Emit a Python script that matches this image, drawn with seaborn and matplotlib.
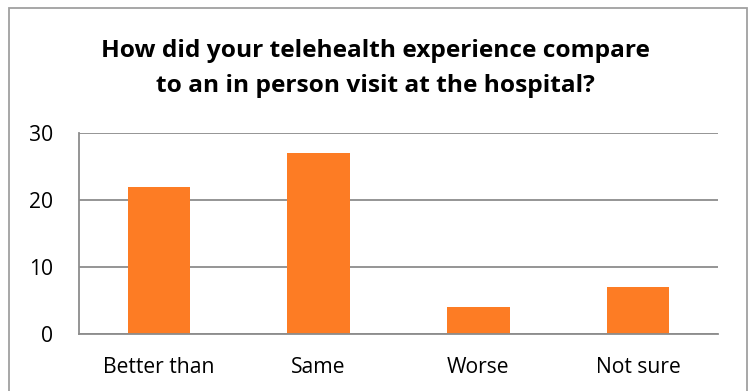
import matplotlib
matplotlib.use("Agg")
import matplotlib.pyplot as plt
import seaborn as sns
import pandas as pd
from matplotlib.patches import Rectangle

categories = ["Better than", "Same", "Worse", "Not sure"]
counts = [22, 27, 4, 7]
y_ticks = [0, 10, 20, 30]
title_lines = ["How did your telehealth experience compare",
               "to an in person visit at the hospital?"]

sns.set_theme(style="white")
plt.rcParams["font.family"] = ["Open Sans", "DejaVu Sans"]
plt.rcParams["text.color"] = "black"

df = pd.DataFrame({"category": categories, "count": counts})

W, H = 750, 391
fig = plt.figure(figsize=(W / 100, H / 100), dpi=100)
renderer = fig.canvas.get_renderer()


def fitted_size(text, width_px, base=12, **kw):
    """Font size at which `text` spans roughly `width_px` pixels."""
    t = fig.text(0, 0, text, fontsize=base, **kw)
    w = t.get_window_extent(renderer).width
    t.remove()
    return base * width_px / w


tick_size = fitted_size("Better than", 111)
title_size = fitted_size(title_lines[0], 548, fontweight="bold")

ax = fig.add_axes([79 / W, 1 - 334 / H, (718 - 79) / W, (334 - 133) / H])

sns.barplot(data=df, x="category", y="count", color="#FD7C24", saturation=1,
            width=0.39, ax=ax, linewidth=0)

ax.set_ylim(0, 30)
ax.set_xlim(-0.5, 3.5)
ax.set_yticks(y_ticks)
ax.yaxis.grid(True, color="#8c8c8c", linewidth=1.3)
ax.set_axisbelow(True)
ax.set_xlabel("")
ax.set_ylabel("")
for side in ["top", "right"]:
    ax.spines[side].set_visible(False)
for side in ["left", "bottom"]:
    ax.spines[side].set_color("#8c8c8c")
    ax.spines[side].set_linewidth(1.3)
ax.tick_params(axis="both", length=0, labelsize=tick_size, colors="black")
ax.tick_params(axis="y", pad=26 * 0.72)
ax.tick_params(axis="x", pad=23 * 0.72)

# two-line title, placed by baseline
for line, base_px in zip(title_lines, [57, 92]):
    fig.text(0.5, 1 - base_px / H, line, ha="center", va="baseline",
             fontsize=title_size, fontweight="bold", color="black")

# outer chart frame
fig.patches.append(Rectangle((9 / W, -0.1), (747 - 9) / W, 1 - 8 / H + 0.1,
                             transform=fig.transFigure, fill=False,
                             edgecolor="#a0a0a0", linewidth=1.3))

fig.savefig("out.png", dpi=100)
